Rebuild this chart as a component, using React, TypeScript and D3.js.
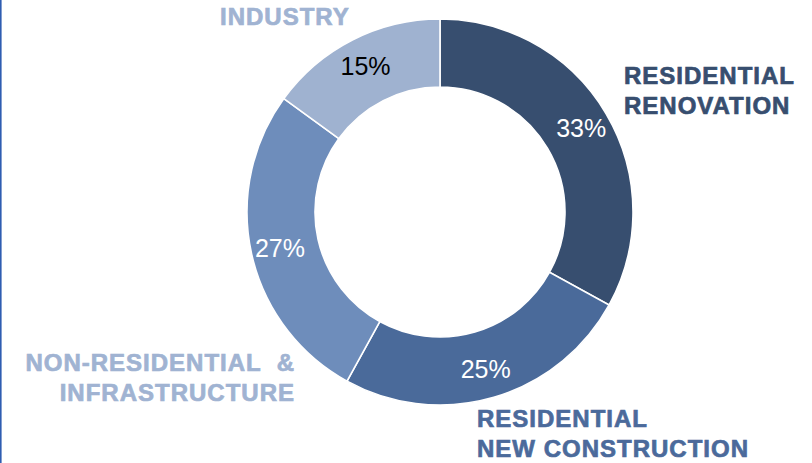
import React from "react";
import * as d3 from "d3";

const categories = [
  "RESIDENTIAL RENOVATION",
  "RESIDENTIAL NEW CONSTRUCTION",
  "NON-RESIDENTIAL & INFRASTRUCTURE",
  "INDUSTRY",
];
const values = [33, 25, 27, 15];
const sliceColors = ["#374e6f", "#4a6a9a", "#6e8dbb", "#9fb2d0"];
const pctColors = ["#ffffff", "#ffffff", "#ffffff", "#000000"];
const labelLines = [
  ["RESIDENTIAL", "RENOVATION"],
  ["RESIDENTIAL", "NEW CONSTRUCTION"],
  ["NON-RESIDENTIAL \u00a0&", "INFRASTRUCTURE"],
  ["INDUSTRY"],
];
const labelColors = ["#374e6f", "#4b6a9b", "#a0b3d2", "#a0b3d2"];

const W = 812;
const H = 463;
const cx = 440;
const cy = 212;
const outerR = 193;
const innerR = 125;
const labelR = 164;

// category label placement (anchor x, first baseline y, anchor)
const labelPos: { x: number; y: number; anchor: "start" | "end" }[] = [
  { x: 624, y: 84, anchor: "start" },
  { x: 477, y: 427, anchor: "start" },
  { x: 295, y: 371, anchor: "end" },
  { x: 220, y: 25, anchor: "start" },
];

export default function App() {
  const pie = d3
    .pie<number>()
    .value((d) => d)
    .sort(null)
    .startAngle(0)
    .endAngle(2 * Math.PI);
  const arcs = pie(values);
  const arc = d3
    .arc<d3.PieArcDatum<number>>()
    .innerRadius(innerR)
    .outerRadius(outerR);
  const labelArc = d3
    .arc<d3.PieArcDatum<number>>()
    .innerRadius(labelR)
    .outerRadius(labelR);

  return (
    <svg
      width={W}
      height={H}
      style={{ position: "absolute", left: 0, top: 0, background: "#ffffff" }}
    >
      <rect x={0} y={0} width={W} height={H} fill="#ffffff" />
      <rect x={0} y={0} width={1.6} height={H} fill="#2f5db1" />
      <g transform={`translate(${cx},${cy})`}>
        {arcs.map((a, i) => (
          <path
            key={categories[i]}
            d={arc(a) || ""}
            fill={sliceColors[i]}
            stroke="#ffffff"
            strokeWidth={1.6}
          />
        ))}
        {arcs.map((a, i) => {
          const [x, y] = labelArc.centroid(a);
          return (
            <text
              key={"p" + i}
              x={x}
              y={y}
              dy="0.35em"
              textAnchor="middle"
              fontFamily="'Liberation Sans', Arial, sans-serif"
              fontSize={25}
              fill={pctColors[i]}
            >
              {`${values[i]}%`}
            </text>
          );
        })}
      </g>
      {labelLines.map((lines, i) => (
        <text
          key={"l" + i}
          fontFamily="'Liberation Sans', Arial, sans-serif"
          fontWeight="bold"
          fontSize={24}
          letterSpacing={1}
          fill={labelColors[i]}
          stroke={labelColors[i]}
          strokeWidth={0.7}
          textAnchor={labelPos[i].anchor}
        >
          {lines.map((ln, j) => (
            <tspan key={j} x={labelPos[i].x} y={labelPos[i].y + j * 30}>
              {ln}
            </tspan>
          ))}
        </text>
      ))}
    </svg>
  );
}
